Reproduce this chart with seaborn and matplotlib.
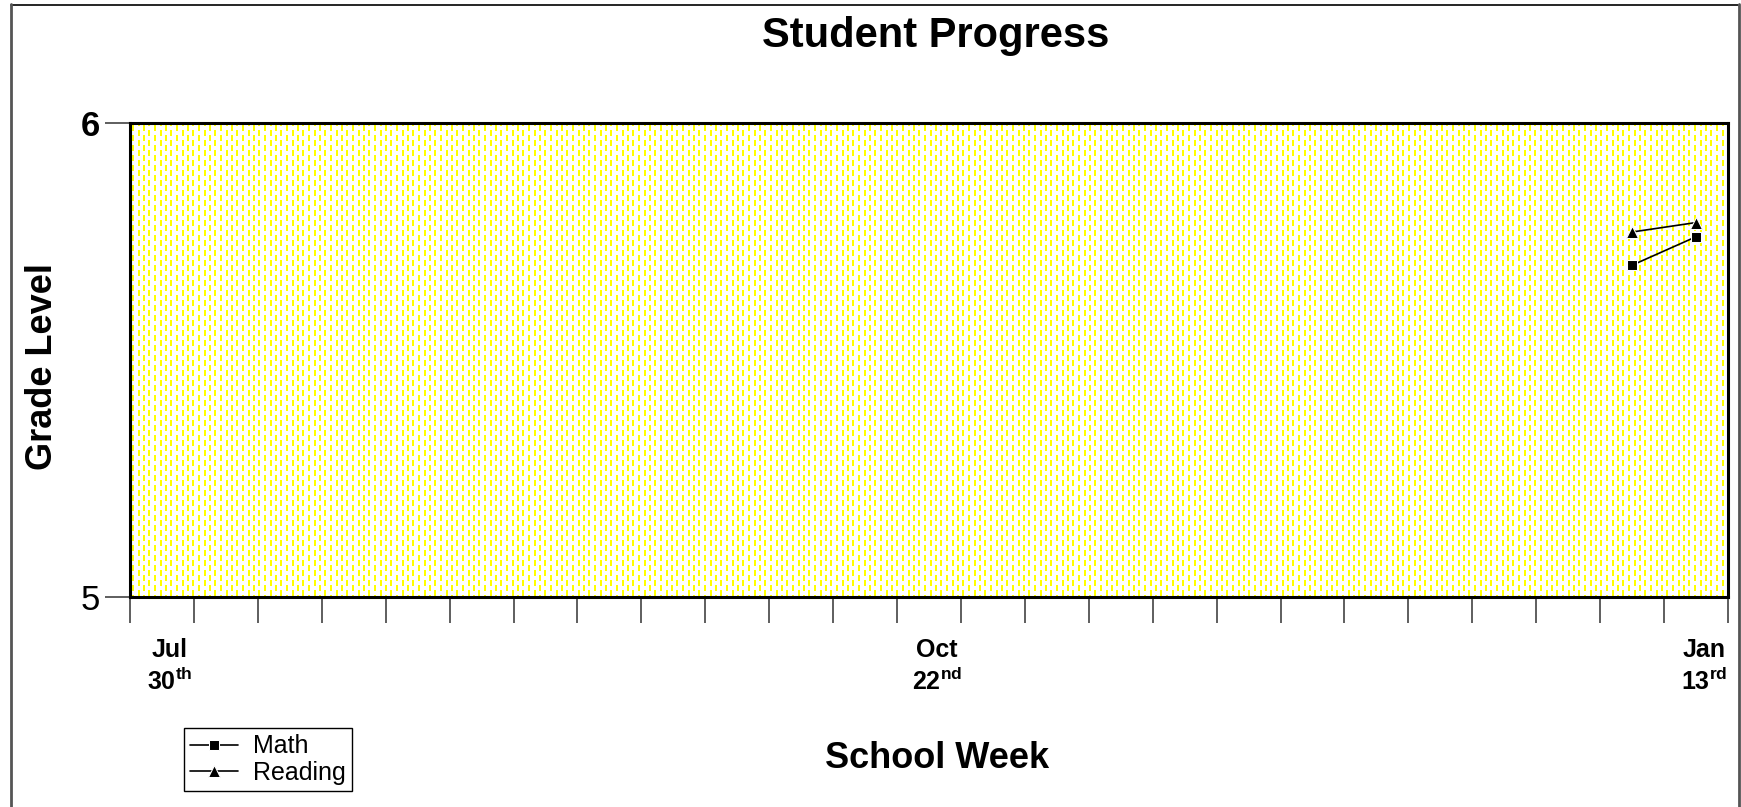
import numpy as np
import pandas as pd
import seaborn as sns
import matplotlib.pyplot as plt
from matplotlib.lines import Line2D
import matplotlib.transforms as mtransforms

# ----------------- Data -------------------
week_idx = [23, 24]
math_level = [5.70, 5.76]
reading_level = [5.77, 5.79]

n_weeks = 25
label_weeks = [0, 12, 24]
label_months = ["Jul", "Oct", "Jan"]
label_days = ["30", "22", "13"]
label_suffix = ["th", "nd", "rd"]

y_ticks = [5, 6]

# ----------------- Style -------------------
sns.set_style("white")
plt.rcParams['font.family'] = ['Liberation Sans', 'DejaVu Sans']
plt.rcParams['mathtext.fontset'] = 'custom'
plt.rcParams['mathtext.rm'] = 'Liberation Sans'
plt.rcParams['mathtext.bf'] = 'Liberation Sans:bold'
for key in ['text.color', 'axes.labelcolor', 'xtick.color', 'ytick.color']:
    plt.rcParams[key] = 'black'

W, H = 1741, 807
fig = plt.figure(figsize=(W / 100, H / 100), dpi=100)

# axes box in pixels
left_px, right_px, top_px, bottom_px = 130, 1728, 123, 597
ax = fig.add_axes([left_px / W, 1 - bottom_px / H,
                   (right_px - left_px) / W, (bottom_px - top_px) / H])

# yellow dotted background pattern
pw, ph = right_px - left_px, bottom_px - top_px
pattern = np.ones((ph, pw, 3))
c = 0
while True:
    x0 = int(round(c * 5.5)) + 2
    if x0 >= pw:
        break
    off = (c % 2) * 5
    for y0 in range(-10 + off, ph, 10):
        ys, ye = max(y0 + 2, 0), min(y0 + 8, ph)
        if ye > ys:
            pattern[ys:ye, x0:x0 + 2, 2] = 0.0
    c += 1
ax.imshow(pattern, extent=(0, n_weeks, 5, 6), aspect='auto',
          interpolation='nearest', zorder=0)

# ----------------- Series -------------------
df = pd.DataFrame({
    'week': np.array(week_idx) + 0.5,
    'Math': math_level,
    'Reading': reading_level,
})
sns.lineplot(data=df, x='week', y='Math', marker='s', color='black',
             markersize=6.5, linewidth=1.2, label='Math', ax=ax, zorder=3)
sns.lineplot(data=df, x='week', y='Reading', marker='^', color='black',
             markersize=8, linewidth=1.2, label='Reading', ax=ax, zorder=3)

ax.set_xlim(0, n_weeks)
ax.set_ylim(5, 6)

# ----------------- Axes -------------------
for s in ax.spines.values():
    s.set_visible(True)
    s.set_color('black')
    s.set_linewidth(2.2)

ax.set_xticks(range(n_weeks + 1))
ax.tick_params(axis='x', bottom=True, length=19, width=1.1, color='#333333',
               direction='out', labelbottom=False)
ax.set_yticks(y_ticks)
ax.set_yticklabels([str(v) for v in y_ticks], fontsize=25)
ax.get_yticklabels()[1].set_fontweight('bold')
ax.tick_params(axis='y', left=True, length=18, width=1.1, color='#333333',
               direction='out', pad=3.5)

trans = mtransforms.blended_transform_factory(ax.transData, ax.transAxes)
for w, m, d, sfx in zip(label_weeks, label_months, label_days, label_suffix):
    ax.text(w + 0.62, -0.1266, m, transform=trans, ha='center', va='baseline',
            fontsize=18, fontweight='bold')
    ax.text(w + 0.62, -0.196, r"$\mathbf{" + d + "^{" + sfx + "}}$",
            transform=trans, ha='center', va='baseline', fontsize=18)

ax.set_ylabel("Grade Level", fontsize=26, fontweight='bold', va='center')
ax.yaxis.set_label_coords(-0.055, 0.487)
ax.set_xlabel("School Week", fontsize=26, fontweight='bold', va='center')
ax.xaxis.set_label_coords(0.505, -0.34)

fig.text(936 / W, 1 - 36 / H, "Student Progress", ha='center', va='center',
         fontsize=30, fontweight='bold')

leg = ax.legend(loc='lower left', bbox_to_anchor=(184 / W, 1 - 791 / H),
                bbox_transform=fig.transFigure, borderaxespad=0, frameon=True,
                fancybox=False, edgecolor='black', framealpha=1, fontsize=18,
                handlelength=1.9, handletextpad=0.6, labelspacing=0.1,
                borderpad=0.25)
leg.get_frame().set_linewidth(1.0)

# figure border
fig.add_artist(Line2D([11 / W, 1738 / W], [1 - 4.5 / H, 1 - 4.5 / H],
                      transform=fig.transFigure, color='black', lw=1.2))
fig.add_artist(Line2D([11 / W, 11 / W], [0, 1 - 4 / H],
                      transform=fig.transFigure, color='#555555', lw=2))
fig.add_artist(Line2D([1738.5 / W, 1738.5 / W], [0, 1 - 4 / H],
                      transform=fig.transFigure, color='#555555', lw=2))

fig.savefig("out.png", dpi=100)
